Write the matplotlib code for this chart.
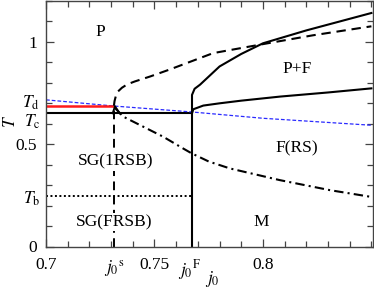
import matplotlib
matplotlib.use("Agg")
import matplotlib.pyplot as plt
import numpy as np

# ---- data ----
j0s = 0.7313
j0F = 0.7673
T_d = 0.687
T_c = 0.650
T_b = 0.245

# red line (T_d, j0 < j0s)
red_x = [0.70, j0s]
red_y = [T_d, T_d]

# black solid T_c line
tc_x = [0.70, j0F]
tc_y = [T_c, T_c]

# dotted T_b line
tb_x = [0.70, j0F]
tb_y = [T_b, T_b]

# blue dashed line
blue_x = [0.700, 0.731, 0.767, 0.800, 0.850]
blue_y = [0.716, 0.686, 0.657, 0.626, 0.592]

# black dashed upper branch (starting at j0s)
dash_x = [0.7313, 0.7316, 0.7322, 0.7332, 0.7350, 0.7375, 0.7410, 0.7480, 0.7570,
          0.7660, 0.7770, 0.8000, 0.8230, 0.8500]
dash_y = [0.687, 0.710, 0.735, 0.757, 0.775, 0.792, 0.806, 0.830, 0.864,
          0.900, 0.944, 0.988, 1.031, 1.075]

# vertical dashed line at j0s
vs_x = [j0s, j0s]
vs_y = [0.0, T_d]

# dash-dot lower branch
dd_x = [0.7318, 0.7356, 0.7448, 0.7540, 0.7633, 0.7671, 0.7750, 0.7848, 0.8078, 0.8309, 0.8500]
dd_y = [0.676, 0.634, 0.585, 0.536, 0.478, 0.455, 0.415, 0.381, 0.324, 0.275, 0.242]

# small solid cusp near j0s
cusp_x = [0.7307, 0.7318, 0.7340]
cusp_y = [0.650, 0.685, 0.650]

# solid vertical at j0F continuing to upper solid curve
up_x = [j0F, j0F, 0.7685, 0.7710, 0.7800, 0.7900, 0.8000, 0.8200, 0.8500]
up_y = [0.000, 0.740, 0.770, 0.790, 0.879, 0.940, 0.992, 1.055, 1.140]

# lower solid curve from (j0F, T_c)
lo_x = [j0F, 0.7679, 0.7725, 0.7800, 0.7900, 0.8080, 0.8300, 0.8500]
lo_y = [T_c, 0.670, 0.688, 0.699, 0.712, 0.732, 0.752, 0.772]

# region labels
reg_text = ["P", "P+F", "F(RS)", "M", "SG(1RSB)", "SG(FRSB)"]
reg_x = [0.7249, 0.8156, 0.8156, 0.7994, 0.7320, 0.7313]
reg_y = [1.048, 0.867, 0.481, 0.121, 0.414, 0.120]
reg_bg = [False, False, False, False, True, True]

xticks = [0.70, 0.75, 0.80]
xtick_labels = ["0.7", "0.75", "0.8"]
yticks = [0.0, 0.5, 1.0]
ytick_labels = ["0", "0.5", "1"]

# ---- figure ----
plt.rcParams['font.family'] = ['Liberation Serif', 'DejaVu Serif']
plt.rcParams['mathtext.fontset'] = 'stix'
FS = 12.5

fig = plt.figure(figsize=(3.74, 2.89), dpi=100)
ax = fig.add_axes([46/374, 1 - 246.5/289, (372.5-46)/374, (246.5-0.7)/289])

k = 'black'
ax.plot(tc_x, tc_y, color=k, lw=1.5, solid_capstyle='butt')
ax.plot(tb_x, tb_y, color=k, lw=1.4, linestyle=(0, (1, 1.3)))
ax.plot(blue_x, blue_y, color='#2a2aff', lw=0.9, linestyle=(0, (3, 1.6)))
ax.plot(red_x, red_y, color='#ff1a1a', lw=1.8, solid_capstyle='butt')
ax.plot(dash_x, dash_y, color=k, lw=1.5, linestyle=(0, (4.5, 2.8)))
ax.plot(vs_x, vs_y, color=k, lw=1.4, linestyle=(0, (4.5, 2.8)))
ax.plot(dd_x, dd_y, color=k, lw=1.5, linestyle=(0, (4.5, 2, 1, 2)))
ax.plot(cusp_x, cusp_y, color=k, lw=1.3)
ax.plot(up_x, up_y, color=k, lw=1.5)
ax.plot(lo_x, lo_y, color=k, lw=1.5)

for t, x, y, bg in zip(reg_text, reg_x, reg_y, reg_bg):
    kw = {}
    if bg:
        kw['bbox'] = dict(facecolor='white', edgecolor='none', pad=1.0)
    ax.text(x, y, t, fontsize=FS, ha='center', va='center', zorder=5, **kw)

ax.set_xlim(0.70, 0.8505)
ax.set_ylim(0.0, 1.2)

ax.set_xticks(xticks)
ax.set_xticklabels(xtick_labels)
ax.set_xticks(np.arange(0.70, 0.8501, 0.01), minor=True)
ax.set_yticks(yticks)
ax.set_yticklabels(ytick_labels)
ax.set_yticks(np.arange(0.0, 1.2001, 0.1), minor=True)

sp_col = '#444444'
for s in ax.spines.values():
    s.set_color(sp_col)
    s.set_linewidth(1.0)
ax.tick_params(which='both', direction='in', top=True, right=True, color=sp_col,
               labelsize=FS, width=0.9)
ax.tick_params(which='major', length=5.8)
ax.tick_params(which='minor', length=4)
ax.tick_params(axis='x', which='major', pad=7.5)
ax.tick_params(axis='y', which='major', pad=6.5)

# special tick-like labels
ytr = ax.get_yaxis_transform()
xtr = ax.get_xaxis_transform()
ax.text(-0.018, 0.680, r"$T_{\rm d}$", transform=ytr, fontsize=FS, ha='right', va='baseline')
ax.text(-0.018, 0.585, r"$T_{\rm c}$", transform=ytr, fontsize=FS, ha='right', va='baseline')
ax.text(-0.018, 0.208, r"$T_{\rm b}$", transform=ytr, fontsize=FS, ha='right', va='baseline')
ax.text(j0s, -0.047, r"$j_0{}^{\rm s}$", transform=xtr, fontsize=FS, ha='center', va='top')
ax.text(0.7659, -0.047, r"$j_0{}^{\rm F}$", transform=xtr, fontsize=FS, ha='center', va='top')

# axis labels
ax.text(0.7765, -0.133, r"$j_0$", transform=xtr, fontsize=FS, ha='center', va='center')
ax.text(-0.108, 0.507, r"$T$", transform=ax.transAxes, fontsize=FS, ha='center', va='center',
        rotation=90)

fig.savefig("out.png", dpi=100)
